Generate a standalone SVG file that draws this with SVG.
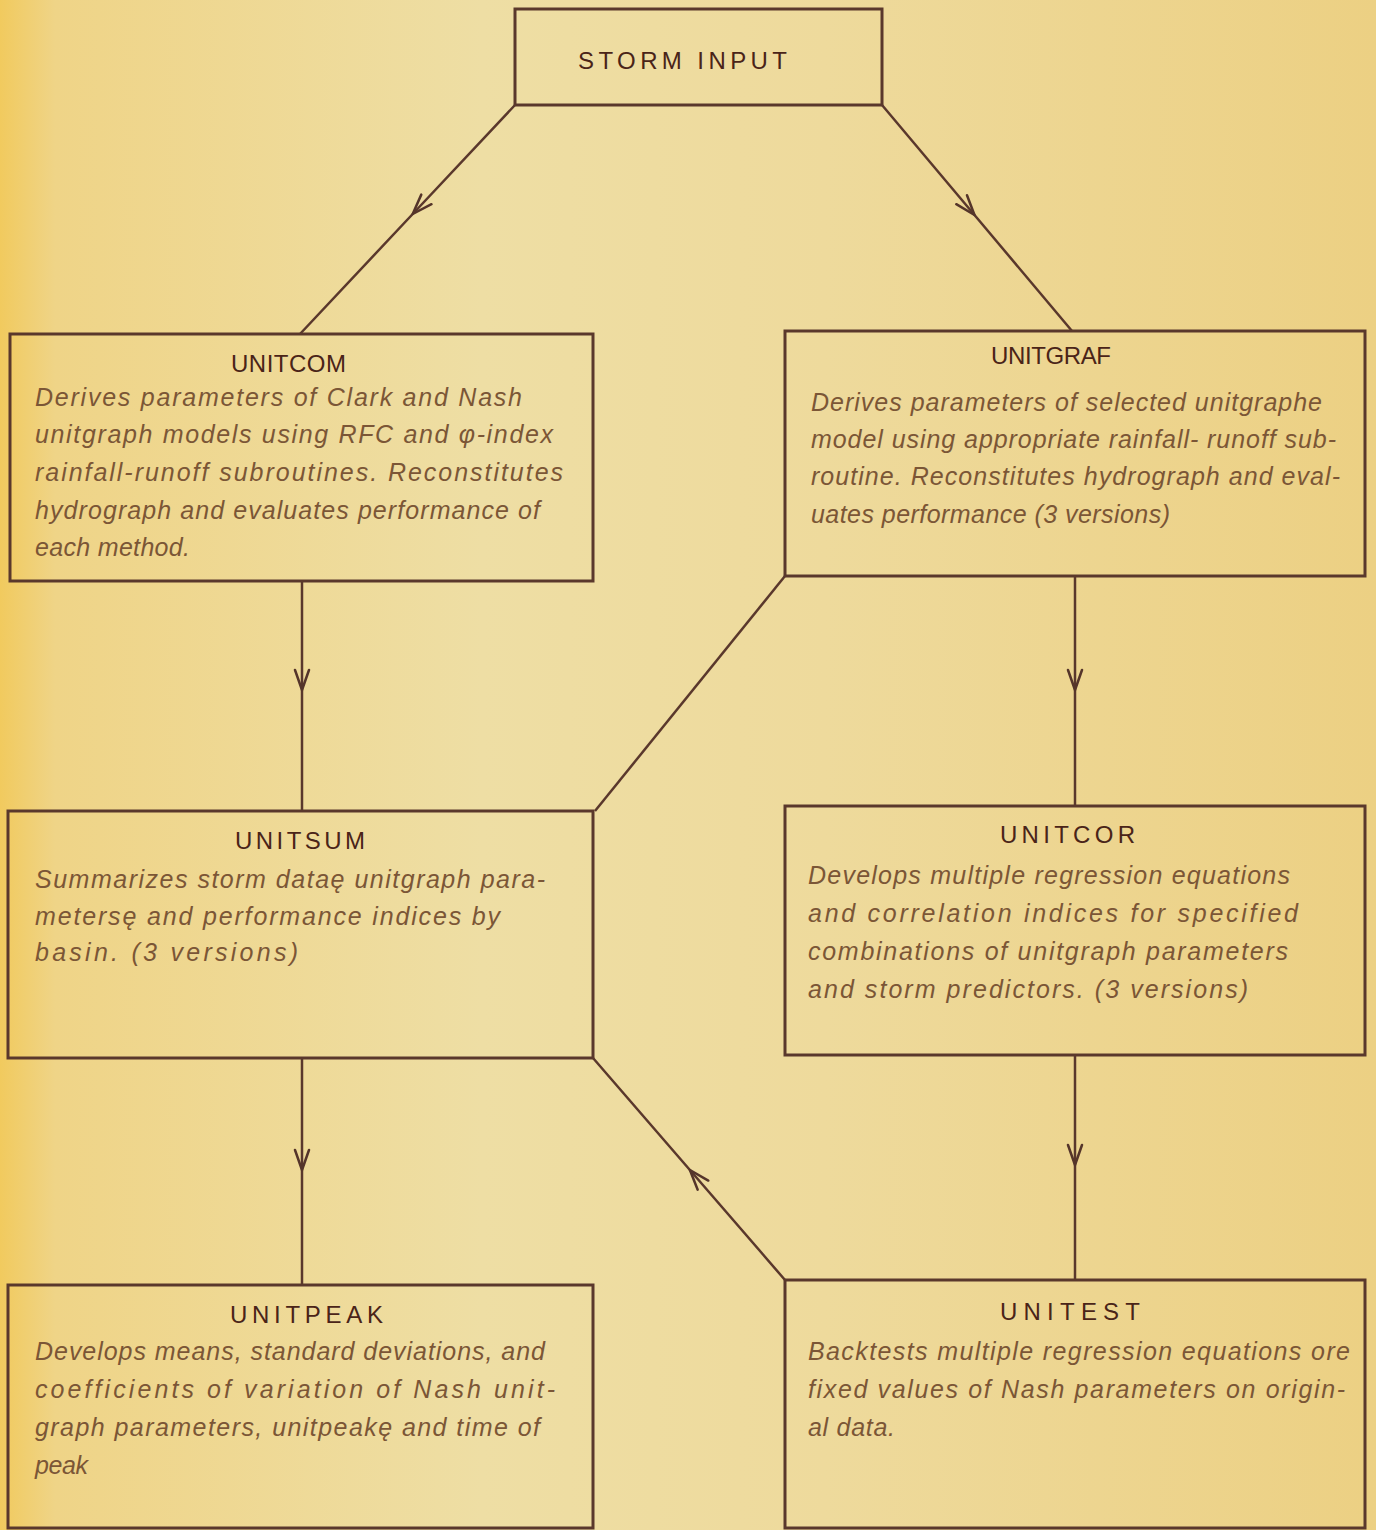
<svg xmlns="http://www.w3.org/2000/svg" width="1376" height="1530" viewBox="0 0 1376 1530">
  <defs>
    <linearGradient id="paper" x1="0" y1="0" x2="1" y2="0">
      <stop offset="0" stop-color="#F1CA5E"/>
      <stop offset="0.04" stop-color="#EFD487"/>
      <stop offset="0.35" stop-color="#EEDEA4"/>
      <stop offset="0.6" stop-color="#EEDA9C"/>
      <stop offset="1" stop-color="#ECD083"/>
    </linearGradient>
    <marker id="arr" markerUnits="userSpaceOnUse" viewBox="-22 -10 24 20" refX="0" refY="0" markerWidth="24" markerHeight="20" orient="auto" overflow="visible">
      <path d="M -20 -7 L 0 0 L -20 7" fill="none" stroke="#55352A" stroke-width="2.5" stroke-linecap="round" stroke-linejoin="round"/>
    </marker>
  </defs>
  <style>
    .box { fill: none; stroke: #5A382C; stroke-width: 3; }
    .title { font-family: "Liberation Sans", Arial, sans-serif; font-size: 24px; fill: #4A2418; }
    .body { font-family: "Liberation Sans", Arial, sans-serif; font-style: italic; font-size: 25px; fill: #7B5636; }
    .conn { fill: none; stroke: #5A382C; stroke-width: 2.5; marker-mid: url(#arr); }
    .plain { fill: none; stroke: #5A382C; stroke-width: 2.5; }
  </style>
  <rect x="0" y="0" width="1376" height="1530" fill="url(#paper)"/>

  <g id="connectors">
    <path class="conn" d="M 515 105 L 412.7 214 L 300 334"/>
    <path class="conn" d="M 882 105 L 974.5 215 L 1072 331"/>
    <path class="conn" d="M 302 581 L 302 690 L 302 811"/>
    <path class="conn" d="M 1075 576 L 1075 690 L 1075 806"/>
    <path class="plain" d="M 785 576 L 595 811"/>
    <path class="conn" d="M 302 1058 L 302 1170 L 302 1285"/>
    <path class="conn" d="M 1075 1055 L 1075 1165 L 1075 1280"/>
    <path class="conn" d="M 785 1280 L 689.9 1170 L 593 1058"/>
  </g>

  <g id="storm-input">
    <rect class="box" x="515" y="9" width="367" height="96"/>
    <text class="title" x="578" y="69" textLength="209" lengthAdjust="spacing">STORM INPUT</text>
  </g>

  <g id="unitcom">
    <rect class="box" x="10" y="334" width="583" height="247"/>
    <text class="title" x="231" y="372" textLength="115" lengthAdjust="spacing">UNITCOM</text>
    <text class="body" x="35" y="406" textLength="487" lengthAdjust="spacing">Derives parameters of Clark and Nash</text>
    <text class="body" x="35" y="443" textLength="518" lengthAdjust="spacing">unitgraph models using RFC and φ-index</text>
    <text class="body" x="35" y="481" textLength="528" lengthAdjust="spacing">rainfall-runoff subroutines. Reconstitutes</text>
    <text class="body" x="35" y="519" textLength="505" lengthAdjust="spacing">hydrograph and evaluates performance of</text>
    <text class="body" x="35" y="556" textLength="155" lengthAdjust="spacing">each method.</text>
  </g>

  <g id="unitgraf">
    <rect class="box" x="785" y="331" width="580" height="245"/>
    <text class="title" x="991" y="364" textLength="120" lengthAdjust="spacing">UNITGRAF</text>
    <text class="body" x="811" y="411" textLength="511" lengthAdjust="spacing">Derives parameters of selected unitgraphe</text>
    <text class="body" x="811" y="448" textLength="525" lengthAdjust="spacing">model using appropriate rainfall- runoff sub-</text>
    <text class="body" x="811" y="485" textLength="529" lengthAdjust="spacing">routine.  Reconstitutes hydrograph and eval-</text>
    <text class="body" x="811" y="523" textLength="359" lengthAdjust="spacing">uates performance  (3 versions)</text>
  </g>

  <g id="unitsum">
    <rect class="box" x="8" y="811" width="585" height="247"/>
    <text class="title" x="235" y="849" textLength="130" lengthAdjust="spacing">UNITSUM</text>
    <text class="body" x="35" y="888" textLength="510" lengthAdjust="spacing">Summarizes storm dataę unitgraph para-</text>
    <text class="body" x="35" y="925" textLength="465" lengthAdjust="spacing">metersę and performance indices by</text>
    <text class="body" x="35" y="961" textLength="263" lengthAdjust="spacing">basin.  (3 versions)</text>
  </g>

  <g id="unitcor">
    <rect class="box" x="785" y="806" width="580" height="249"/>
    <text class="title" x="1000" y="843" textLength="135" lengthAdjust="spacing">UNITCOR</text>
    <text class="body" x="808" y="884" textLength="482" lengthAdjust="spacing">Develops multiple regression equations</text>
    <text class="body" x="808" y="922" textLength="490" lengthAdjust="spacing">and correlation indices for specified</text>
    <text class="body" x="808" y="960" textLength="480" lengthAdjust="spacing">combinations of unitgraph parameters</text>
    <text class="body" x="808" y="998" textLength="440" lengthAdjust="spacing">and storm predictors. (3 versions)</text>
  </g>

  <g id="unitpeak">
    <rect class="box" x="8" y="1285" width="585" height="243"/>
    <text class="title" x="230" y="1323" textLength="153" lengthAdjust="spacing">UNITPEAK</text>
    <text class="body" x="35" y="1360" textLength="510" lengthAdjust="spacing">Develops means, standard deviations, and</text>
    <text class="body" x="35" y="1398" textLength="520" lengthAdjust="spacing">coefficients of variation of Nash unit-</text>
    <text class="body" x="35" y="1436" textLength="505" lengthAdjust="spacing">graph parameters, unitpeakę and time of</text>
    <text class="body" x="35" y="1474" textLength="53" lengthAdjust="spacing">peak</text>
  </g>

  <g id="unitest">
    <rect class="box" x="785" y="1280" width="580" height="248"/>
    <text class="title" x="1000" y="1320" textLength="140" lengthAdjust="spacing">UNITEST</text>
    <text class="body" x="808" y="1360" textLength="542" lengthAdjust="spacing">Backtests multiple regression equations ore</text>
    <text class="body" x="808" y="1398" textLength="537" lengthAdjust="spacing">fixed values of Nash parameters on origin-</text>
    <text class="body" x="808" y="1436" textLength="87" lengthAdjust="spacing">al data.</text>
  </g>
</svg>
